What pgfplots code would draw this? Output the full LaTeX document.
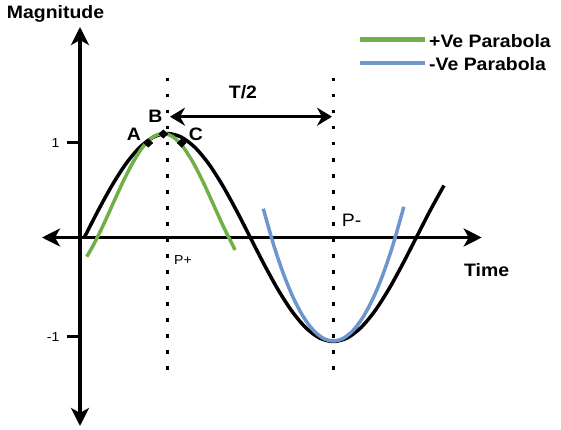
\documentclass[border=0pt]{standalone}
\usepackage{fontspec}
\setmainfont{Liberation Sans}[FakeStretch=1.08]
\usepackage{pgfplots}
\pgfplotsset{compat=1.18}
\usetikzlibrary{arrows.meta}
\definecolor{pgreen}{RGB}{112,176,72}
\definecolor{pblue}{RGB}{108,150,205}
\begin{document}
\begin{tikzpicture}
\begin{axis}[
  x=1pt, y=1pt,
  xmin=-38, xmax=401.7, ymin=-188.5, ymax=210.5,
  axis lines=middle,
  every inner x axis line/.append style={line width=3.5pt, {Stealth[length=18pt,width=18pt,inset=5pt]}-{Stealth[length=18pt,width=18pt,inset=5pt]}},
  every inner y axis line/.append style={line width=3.5pt, {Stealth[length=18pt,width=18pt,inset=5pt]}-{Stealth[length=18pt,width=18pt,inset=5pt]}},
  clip=false,
  xtick=\empty,
  ytick={-99.2,94.8}, yticklabels={-1,1},
  tick align=outside,
  major tick length=13pt,
  ytick style={line width=3.2pt, black},
  yticklabel style={font=\fontsize{13}{13}\selectfont, xshift=-4pt},
  /pgf/number format/assume math mode=true,
  legend style={at={(axis cs:278,205)}, anchor=north west, draw=none, fill=none, inner sep=0pt,
    font=\bfseries\fontsize{18}{18}\selectfont, row sep=6pt, nodes={inner sep=1.5pt}},
  legend image code/.code={\draw[#1, line width=4.5pt] (0pt,2pt) -- (65pt,2pt);},
  legend cell align=left,
]
% sine wave
\addplot[black, line width=3.5pt, smooth, line join=round, forget plot] coordinates {
(4.3,0) (18.13,26.92) (31.97,52) (45.80,73.54) (59.63,90.06) (73.47,100.45) (87.30,104)
(101.13,100.45) (114.97,90.06) (128.80,73.54) (142.63,52) (156.47,26.92) (170.30,0)
(184.13,-26.92) (197.97,-52) (211.80,-73.54) (225.63,-90.06) (239.47,-100.45) (253.30,-104)
(267.13,-100.45) (280.97,-90.06) (294.80,-73.54) (308.63,-52) (322.47,-26.92) (336.30,0)
(350.13,26.92) (363.97,52)};
% +ve parabola
\addplot[pgreen, line width=3.5pt, smooth] coordinates {
(6.7,-19.2) (13,-8.3) (23,11.8) (33,33.9) (43,55.7) (53,75.2) (63,90.7) (73,100.6) (83,104)
(93,100.6) (103,90.7) (113,75.2) (123,55.7) (133,33.9) (143,11.8) (153,-8.3) (155,-12.5)};
\addlegendentry{+Ve Parabola}
% -ve parabola
\addplot[pblue, line width=3.5pt, smooth] coordinates {
(183.3,28.8) (193.3,-6.3) (203.3,-36) (213.3,-60.3) (223.3,-79.2) (233.3,-92.7) (243.3,-100.8)
(253.3,-103.5) (263.3,-100.8) (273.3,-92.7) (283.3,-79.2) (293.3,-60.3) (303.3,-36)
(313.3,-6.3) (323.8,30.7)};
\addlegendentry{-Ve Parabola}
% dotted verticals
\addplot[black, line width=3.5pt, dash pattern=on 3.5pt off 12.5pt, forget plot] coordinates {(87.3,159.5) (87.3,-135.5)};
\addplot[black, line width=3.5pt, dash pattern=on 3.5pt off 12.5pt, forget plot] coordinates {(253.3,159.5) (253.3,-135.5)};
% points A B C
\addplot[black, only marks, mark=diamond*, mark size=6pt, mark options={xscale=1.0,yscale=0.7, fill=black, draw=black}, forget plot] coordinates {(68.3,94.5) (83.3,103.5) (101.7,94.5)};
% T/2 arrow
\draw[line width=3.5pt, {Stealth[length=15pt,width=18pt,inset=5pt]}-{Stealth[length=15pt,width=18pt,inset=5pt]}] (axis cs:90,120.8) -- (axis cs:252,120.8);
% labels
\node[anchor=base west, inner sep=0pt, font=\bfseries\fontsize{18}{18}\selectfont] at (axis cs:-73.3,219.2) {Magnitude};
\node[anchor=base, inner sep=0pt, font=\bfseries\fontsize{18}{18}\selectfont] at (axis cs:163,139.2) {T/2};
\node[anchor=base, inner sep=0pt, font=\bfseries\fontsize{18}{18}\selectfont] at (axis cs:54,96.8) {A};
\node[anchor=base, inner sep=0pt, font=\bfseries\fontsize{18}{18}\selectfont] at (axis cs:75.4,114.8) {B};
\node[anchor=base, inner sep=0pt, font=\bfseries\fontsize{18}{18}\selectfont] at (axis cs:115.8,97.5) {C};
\node[anchor=base west, inner sep=0pt, font=\fontsize{13}{13}\selectfont] at (axis cs:94,-27) {P+};
\node[anchor=base west, inner sep=0pt, font=\fontsize{18}{18}\selectfont] at (axis cs:261.7,11.5) {P-};
\node[anchor=base west, inner sep=0pt, font=\bfseries\fontsize{18}{18}\selectfont] at (axis cs:384,-39) {Time};
\coordinate (bbA) at (axis cs:-80,-191.5);
\coordinate (bbB) at (axis cs:481,237.5);
\end{axis}
\pgfresetboundingbox
\path[use as bounding box] (bbA) rectangle (bbB);
\end{tikzpicture}
\end{document}
